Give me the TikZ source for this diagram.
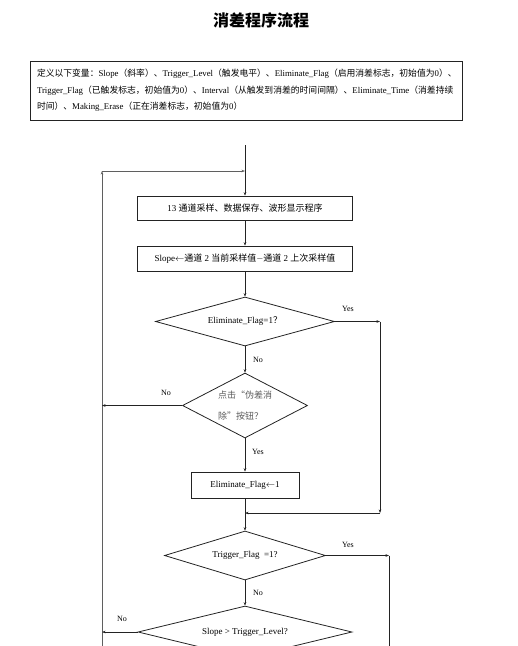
\documentclass[tikz,border=0pt]{standalone}
\usepackage{fontspec}
\setmainfont{Liberation Serif}
\newfontfamily\cjk{Noto Sans CJK SC}
\usepackage{tikz}
\usetikzlibrary{positioning, arrows.meta, shapes.geometric}
\definecolor{LineGrey}{RGB}{35,35,35}
\definecolor{LoopGrey}{RGB}{95,95,95}
\definecolor{TextGrey}{RGB}{90,90,90}
\newcommand{\zh}[1]{{\cjk #1}}
\tikzset{
  procbox/.style={draw=LineGrey, line width=0.8pt, inner sep=1pt,
    font=\fontsize{9}{11}\selectfont, align=center},
  decision/.style={diamond, draw=LineGrey, line width=0.8pt, inner sep=0pt,
    font=\fontsize{9}{11}\selectfont, align=center},
  flowarr/.style={-{Stealth[length=3.5pt, width=2.6pt]}, line width=0.8pt, LineGrey},
  looparr/.style={-{Stealth[length=3.5pt, width=2.6pt]}, line width=1pt, LoopGrey},
  branchlab/.style={font=\fontsize{8}{9}\selectfont, inner sep=0pt},
}

\begin{document}
\begin{tikzpicture}[x=1pt, y=-1pt]
  \useasboundingbox (0,0) rectangle (518,646);
  \clip (0,0) rectangle (518,646);

  % title and variable list
  \node[font=\cjk\bfseries\fontsize{16}{18}\selectfont] (title) at (261,20) {消差程序流程};
  \node[draw=LineGrey, line width=0.9pt, text width=418pt, minimum width=432pt, minimum height=59pt,
    inner sep=0pt, align=left, font=\fontsize{8.8}{16.5}\selectfont] (vars) at (246,90.5)
    {\zh{定义以下变量：}Slope\zh{（斜率）、}Trigger\_Level\zh{（触发电平）、}Eliminate\_Flag\zh{（启用消差标志，初始值为}0\zh{）、}\\
     Trigger\_Flag\zh{（已触发标志，初始值为}0\zh{）、}Interval\zh{（从触发到消差的时间间隔）、}Eliminate\_Time\zh{（消差持续}\\
     \zh{时间）、}Making\_Erase\zh{（正在消差标志，初始值为}0\zh{）}};

  % flow nodes
  \coordinate (start) at (245,145);
  \node[procbox, minimum width=215pt, minimum height=24pt] (sample) at (245,208)
    {13 \zh{通道采样、数据保存、波形显示程序}};
  \node[procbox, minimum width=215pt, minimum height=25pt] (slope) at (245,258.5)
    {Slope$\leftarrow$\zh{通道} 2 \zh{当前采样值}$-$\zh{通道} 2 \zh{上次采样值}};
  \node[decision, aspect=3.65, minimum width=179pt, minimum height=49pt] (elimchk) at (245,321.5)
    {Eliminate\_Flag=1\zh{？}};
  \node[decision, aspect=1.92, minimum width=125pt, minimum height=65pt, align=left, text=TextGrey,
    font=\cjk\fontsize{9}{21}\selectfont] (btnchk) at (245,405.5)
    {点击“伪差消\\除”按钮？};
  \node[procbox, minimum width=108pt, minimum height=26pt] (setflag) at (245,485)
    {Eliminate\_Flag$\leftarrow$1};
  \node[decision, aspect=3.29, minimum width=161pt, minimum height=49pt] (trigchk) at (245,555.5)
    {Trigger\_Flag\ \ =1?};
  \node[decision, aspect=4.1, minimum width=214pt, minimum height=52pt] (slopechk) at (245,632)
    {Slope > Trigger\_Level?};

  % corners of the side lines
  \coordinate (loopBL) at (102,660);
  \coordinate (loopTL) at (102,171);
  \coordinate (loopJoin) at (245,171);
  \coordinate (btnNo) at (102,405.5);
  \coordinate (slopeNo) at (102,632);
  \coordinate (yesA) at (380,321.5);
  \coordinate (yesB) at (380,513);
  \coordinate (yesJoin) at (245,513);
  \coordinate (trigYes) at (389,555.5);
  \coordinate (trigDown) at (389,660);

  % connectors
  \draw[flowarr] (start) -- (sample.north);
  \draw[looparr] (loopBL) -- (loopTL);
  \draw[looparr] (loopTL) -- (loopJoin);
  \draw[flowarr] (sample) -- (slope);
  \draw[flowarr] (slope) -- (elimchk);
  \draw[flowarr] (elimchk) -- (btnchk);
  \draw[flowarr] (btnchk) -- (setflag);
  \draw[flowarr] (btnchk.west) -- (btnNo);
  \draw[flowarr] (elimchk.east) -- (yesA);
  \draw[flowarr] (yesA) -- (yesB);
  \draw[flowarr] (yesB) -- (yesJoin);
  \draw[flowarr] (setflag) -- (trigchk);
  \draw[flowarr] (trigchk.east) -- (trigYes);
  \draw[line width=0.8pt, LineGrey] (trigYes) -- (trigDown);
  \draw[flowarr] (trigchk) -- (slopechk);
  \draw[flowarr] (slopechk.west) -- (slopeNo);

  % branch labels
  \node[branchlab] (lab1) at (348,309) {Yes};
  \node[branchlab] (lab2) at (258,360) {No};
  \node[branchlab] (lab3) at (166,393) {No};
  \node[branchlab] (lab4) at (258,452) {Yes};
  \node[branchlab] (lab5) at (348,545) {Yes};
  \node[branchlab] (lab6) at (258,593) {No};
  \node[branchlab] (lab7) at (122,619) {No};
\end{tikzpicture}
\end{document}
